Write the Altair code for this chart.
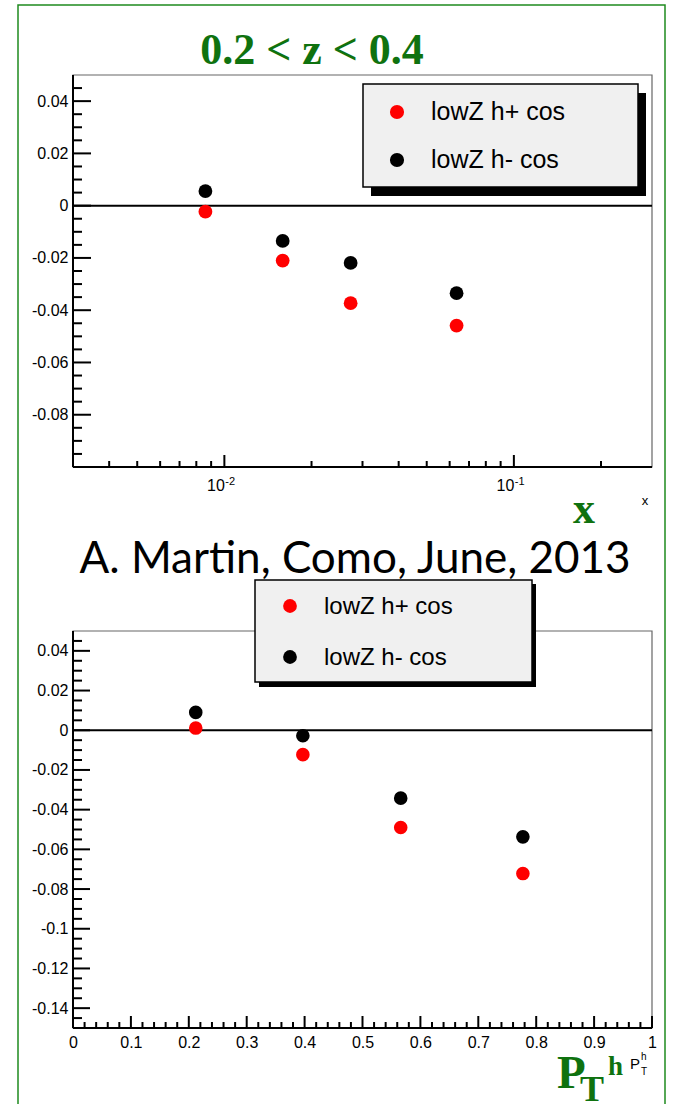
import altair as alt
import pandas as pd

W, H = 679, 1104
ROOT_FONT = "Liberation Sans"
SERIF = "Liberation Serif"
GREEN = "#0f720f"

# ---- data -------------------------------------------------------------
series = ["lowZ h+ cos", "lowZ h- cos"]
series_colors = ["#ff0000", "#000000"]

x_bins = [0.0086, 0.0159, 0.0273, 0.0634]
x_hplus = [-0.0023, -0.0210, -0.0373, -0.0459]
x_hminus = [0.0056, -0.0135, -0.0219, -0.0335]

pt_bins = [0.212, 0.397, 0.566, 0.777]
pt_hplus = [0.0011, -0.0123, -0.0490, -0.0722]
pt_hminus = [0.0090, -0.0028, -0.0342, -0.0537]

# axis ticks (ROOT style: labelled majors, unlabelled minors)
top_y_major = [-0.08, -0.06, -0.04, -0.02, 0.0, 0.02, 0.04]
top_y_minor = [-0.095, -0.09, -0.085, -0.075, -0.07, -0.065, -0.055, -0.05, -0.045,
               -0.035, -0.03, -0.025, -0.015, -0.01, -0.005, 0.005, 0.01, 0.015,
               0.025, 0.03, 0.035, 0.045]
top_x_major = [0.01, 0.1]
top_x_exponents = ["-2", "-1"]
top_x_minor = [0.004, 0.005, 0.006, 0.007, 0.008, 0.009,
               0.02, 0.03, 0.04, 0.05, 0.06, 0.07, 0.08, 0.09, 0.2]

bot_y_major = [-0.14, -0.12, -0.1, -0.08, -0.06, -0.04, -0.02, 0.0, 0.02, 0.04]
bot_y_minor = [-0.145, -0.135, -0.13, -0.125, -0.115, -0.11, -0.105, -0.095, -0.09,
               -0.085, -0.075, -0.07, -0.065, -0.055, -0.05, -0.045, -0.035, -0.03,
               -0.025, -0.015, -0.01, -0.005, 0.005, 0.01, 0.015, 0.025, 0.03,
               0.035, 0.045]
bot_x_major = [0.0, 0.1, 0.2, 0.3, 0.4, 0.5, 0.6, 0.7, 0.8, 0.9, 1.0]
bot_x_minor = [0.02, 0.04, 0.06, 0.08, 0.12, 0.14, 0.16, 0.18, 0.22, 0.24, 0.26, 0.28,
               0.32, 0.34, 0.36, 0.38, 0.42, 0.44, 0.46, 0.48, 0.52, 0.54, 0.56, 0.58,
               0.62, 0.64, 0.66, 0.68, 0.72, 0.74, 0.76, 0.78, 0.82, 0.84, 0.86, 0.88,
               0.92, 0.94, 0.96, 0.98]

title_text = "0.2 < z < 0.4"
author_text = "A. Martin, Como, June, 2013"


def one_row():
    return pd.DataFrame({"k": [0]})


def ticks_df(vals):
    return pd.DataFrame({"v": vals})


color_scale = alt.Scale(domain=series, range=series_colors)

Y_LABELS = ("datum.value == 0 ? '0' : (datum.value < 0 ? '-' : '') + "
            "format(abs(datum.value), '.2~f')")


def y_axis(values, left):
    return alt.Axis(orient="left", offset=-left, values=values, ticks=False, tickSize=0,
                    domain=False, grid=False, labelExpr=Y_LABELS, labelFont=ROOT_FONT,
                    labelFontSize=16, labelColor="black", labelPadding=5,
                    labelOverlap=False, labelFlush=False, title=None)


def x_axis(values, bottom, expr, pad, shift=0):
    return alt.Axis(orient="bottom", offset=-(H - bottom), values=values, ticks=False,
                    tickSize=0, domain=False, grid=False, labelExpr=expr,
                    labelFont=ROOT_FONT, labelFontSize=16, labelColor="black",
                    labelPadding=pad, labelOffset=shift, labelOverlap=False,
                    labelFlush=False, title=None)


def panel(xs, ys, xax, yax, box, xvals, hplus, hminus, ymaj, ymin, xmaj, xmin,
          ymaj_len, ymin_len, dot_size, extra=()):
    x0, x1, y0, y1 = box
    X = lambda f: alt.X(f, scale=xs, axis=xax)
    Y = lambda f: alt.Y(f, scale=ys, axis=yax)

    frame = alt.Chart(one_row()).mark_rect(fillOpacity=0, stroke="#666666", strokeWidth=1.2).encode(
        x=alt.value(x0), x2=alt.value(x1), y=alt.value(y0), y2=alt.value(y1))
    left_line = alt.Chart(one_row()).mark_rule(color="black", strokeWidth=2).encode(
        x=alt.value(x0), y=alt.value(y0), y2=alt.value(y1))
    bottom_line = alt.Chart(one_row()).mark_rule(color="black", strokeWidth=2).encode(
        x=alt.value(x0), x2=alt.value(x1), y=alt.value(y1))

    zero = alt.Chart(ticks_df([0.0])).mark_rule(color="black", strokeWidth=2).encode(
        y=Y("v:Q"), x=alt.value(x0), x2=alt.value(x1))

    ytick_major = alt.Chart(ticks_df(ymaj)).mark_rule(color="black", strokeWidth=2).encode(
        y=Y("v:Q"), x=alt.value(x0), x2=alt.value(x0 + ymaj_len))
    ytick_minor = alt.Chart(ticks_df(ymin)).mark_rule(color="black", strokeWidth=2).encode(
        y=Y("v:Q"), x=alt.value(x0), x2=alt.value(x0 + ymin_len))
    xtick_major = alt.Chart(ticks_df(xmaj)).mark_rule(color="black", strokeWidth=2).encode(
        x=X("v:Q"), y=alt.value(y1), y2=alt.value(y1 - 12))
    xtick_minor = alt.Chart(ticks_df(xmin)).mark_rule(color="black", strokeWidth=2).encode(
        x=X("v:Q"), y=alt.value(y1), y2=alt.value(y1 - 6))

    df = pd.DataFrame({
        "xv": list(xvals) * 2,
        "val": list(hminus) + list(hplus),
        "series": [series[1]] * len(xvals) + [series[0]] * len(xvals),
    })
    dots = alt.Chart(df).mark_circle(size=dot_size, opacity=1).encode(
        x=X("xv:Q"), y=Y("val:Q"),
        color=alt.Color("series:N", scale=color_scale, legend=None))

    extras = [e(X) for e in extra]
    return alt.layer(frame, zero, ytick_minor, ytick_major, xtick_minor, xtick_major,
                     left_line, bottom_line, dots, *extras)


def exponent_marks(X):
    # superscript exponents of the 10^n labels on the log axis
    df = pd.DataFrame({"v": top_x_major, "e": top_x_exponents})
    return alt.Chart(df).mark_text(align="left", baseline="alphabetic", dx=1,
                                   font=ROOT_FONT, fontSize=11, color="black").encode(
        x=X("v:Q"), y=alt.value(485), text="e:N")


def legend_box(box, shadow, dot_x, text_x, rows, font_size, dot_size, dy):
    bx0, bx1, by0, by1 = box
    sx0, sx1, sy0, sy1 = shadow
    shade = alt.Chart(one_row()).mark_rect(fill="black").encode(
        x=alt.value(sx0), x2=alt.value(sx1), y=alt.value(sy0), y2=alt.value(sy1))
    frame = alt.Chart(one_row()).mark_rect(fill="#f0f0f0", stroke="black", strokeWidth=1.5).encode(
        x=alt.value(bx0), x2=alt.value(bx1), y=alt.value(by0), y2=alt.value(by1))
    rows_scale = alt.Scale(type="point", domain=series, range=rows, padding=0)
    entries = pd.DataFrame({"series": series})
    dots = alt.Chart(entries).mark_circle(size=dot_size, opacity=1).encode(
        x=alt.value(dot_x),
        y=alt.Y("series:N", scale=rows_scale, axis=None),
        color=alt.Color("series:N", scale=color_scale, legend=None))
    labels = alt.Chart(entries).mark_text(align="left", baseline="alphabetic", dy=dy,
                                          font=ROOT_FONT, fontSize=font_size, color="black").encode(
        x=alt.value(text_x),
        y=alt.Y("series:N", scale=rows_scale, axis=None),
        text="series:N")
    return alt.layer(shade, frame, dots, labels)


def label(text, x, y, size, font, color="black", bold=False, align="left"):
    return alt.Chart(one_row()).mark_text(
        align=align, baseline="alphabetic", font=font, fontSize=size,
        fontWeight="bold" if bold else "normal", color=color).encode(
        x=alt.value(x), y=alt.value(y), text=alt.value(text))


# ---- top panel: asymmetry versus x (log scale) ------------------------
xs_top = alt.Scale(type="log", domain=[0.003, 0.3], range=[73, 652], nice=False)
ys_top = alt.Scale(domain=[-0.1, 0.05], range=[467, 75], nice=False, zero=False)
top = panel(
    xs_top, ys_top,
    x_axis(top_x_major, 467, "'10'", 10, shift=-9),
    y_axis(top_y_major, 73),
    (73, 652, 75, 467), x_bins, x_hplus, x_hminus,
    top_y_major, top_y_minor, top_x_major, top_x_minor, 18, 9, 190,
    extra=(exponent_marks,))

# ---- bottom panel: asymmetry versus P_T^h -----------------------------
xs_bot = alt.Scale(domain=[0, 1], range=[73, 652], nice=False, zero=False)
ys_bot = alt.Scale(domain=[-0.15, 0.05], range=[1028, 631], nice=False, zero=False)
bottom = panel(
    xs_bot, ys_bot,
    x_axis(bot_x_major, 1028, "format(datum.value, '.1~f')", 6),
    y_axis(bot_y_major, 73),
    (73, 652, 631, 1028), pt_bins, pt_hplus, pt_hminus,
    bot_y_major, bot_y_minor, bot_x_major, bot_x_minor, 17, 9, 185)

top_legend = legend_box((363, 638, 84, 187), (371, 646, 93, 196), 397, 431, [112, 160], 25, 200, 8)
bot_legend = legend_box((255, 532, 580, 682), (259, 536, 584, 687), 290, 324, [606, 657], 24, 190, 8)

border = alt.Chart(one_row()).mark_rect(fillOpacity=0, stroke="#1f8a1f", strokeWidth=1.5).encode(
    x=alt.value(18), x2=alt.value(665), y=alt.value(5), y2=alt.value(H + 20))

texts = [
    label(title_text, 312, 64, 44, SERIF, GREEN, bold=True, align="center"),
    label("x", 645, 505, 13, ROOT_FONT, align="center"),
    label("x", 584, 523, 44, SERIF, GREEN, bold=True, align="center"),
    label(author_text, 355, 573, 44, "Lato", align="center"),
    label("P", 557, 1088, 47, SERIF, GREEN, bold=True),
    label("T", 580, 1101, 36, SERIF, GREEN, bold=True),
    label("h", 608, 1075, 27, SERIF, GREEN, bold=True),
    label("P", 630, 1069, 15, ROOT_FONT),
    label("h", 641, 1060, 10, ROOT_FONT),
    label("T", 641, 1075, 10, ROOT_FONT),
]

chart = alt.layer(border, top, bottom, top_legend, bot_legend, *texts).resolve_scale(
    x="independent", y="independent"
).properties(
    width=W, height=H, padding=0, background="white",
    autosize=alt.AutoSizeParams(type="none"),
).configure_view(stroke=None)

chart.save("out.html", embed_options={"renderer": "svg", "actions": False})
